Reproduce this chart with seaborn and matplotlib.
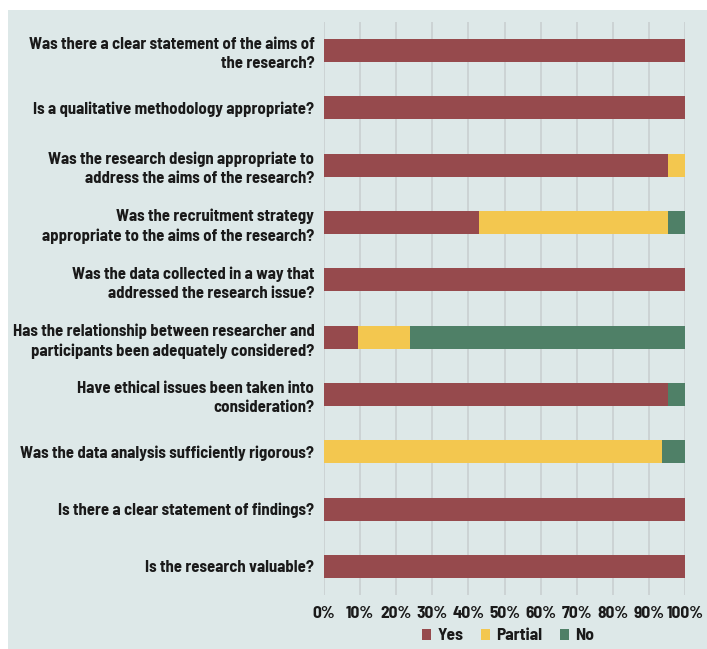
import matplotlib
matplotlib.use("Agg")
import matplotlib.pyplot as plt
import seaborn as sns
import pandas as pd
import numpy as np
from matplotlib.patches import Rectangle

questions = [
    "Was there a clear statement of the aims of\nthe research?",
    "Is a qualitative methodology appropriate?",
    "Was the research design appropriate to\naddress the aims of the research?",
    "Was the recruitment strategy\nappropriate to the aims of the research?",
    "Was the data collected in a way that\naddressed the research issue?",
    "Has the relationship between researcher and\nparticipants been adequately considered?",
    "Have ethical issues been taken into\nconsideration?",
    "Was the data analysis sufficiently rigorous?",
    "Is there a clear statement of findings?",
    "Is the research valuable?",
]
yes = [100, 100, 95.2, 42.9, 100, 9.5, 95.2, 0, 100, 100]
partial = [0, 0, 4.8, 52.4, 0, 14.3, 0, 93.75, 0, 0]
no = [0, 0, 0, 4.7, 0, 76.2, 4.8, 6.25, 0, 0]
series = ["Yes", "Partial", "No"]
colors = ["#964a4d", "#f3c74f", "#4f8067"]
ticks = [0, 10, 20, 30, 40, 50, 60, 70, 80, 90, 100]
tick_labels = [f"{t}%" for t in ticks]

bg = "#dde8e8"
sns.set_theme(style="white")
plt.rcParams['font.family'] = ['Barlow Semi Condensed', 'DejaVu Sans']

fig = plt.figure(figsize=(7.07, 6.49), dpi=100)
fig.patch.set_facecolor("white")
fig.patches.append(Rectangle((8/707, 0), 1, 1 - 10/649, transform=fig.transFigure,
                             facecolor=bg, edgecolor="none", zorder=-10))
ax = fig.add_axes([324/707, 1 - 595/649, (685-324)/707, (595-22)/649])
ax.set_facecolor(bg)

df = pd.DataFrame({"q": questions, "Yes": yes, "Partial": partial, "No": no})
left = np.zeros(len(df))
for s, c in zip(series, colors):
    sns.barplot(data=df, y="q", x=s, left=left, color=c, width=0.4, ax=ax,
                orient="h", label=s, linewidth=0, saturation=1)
    left = left + df[s].values

fs = 12
ax.set_xlim(0, 100)
ax.set_ylim(9.5, -0.5)
ax.set_xticks(ticks)
ax.set_xticklabels(tick_labels, fontsize=12.5, fontweight="bold", color="#1a1a1a")
ax.set_yticks(range(len(questions)))
ax.set_yticklabels(questions, fontsize=fs, fontweight="bold", color="#1a1a1a",
                   linespacing=1.35)
ax.tick_params(axis="y", length=0, pad=7)
ax.tick_params(axis="x", length=0, pad=8)
ax.set_xlabel("")
ax.set_ylabel("")
ax.xaxis.grid(True, color="#c9cfd0", linewidth=1.2)
ax.set_axisbelow(True)
for sp in ax.spines.values():
    sp.set_visible(False)

handles, labels = ax.get_legend_handles_labels()
if ax.get_legend():
    ax.get_legend().remove()
leg = fig.legend(handles, labels, loc="center", bbox_to_anchor=(508/707, 1 - 636/649),
                 ncol=3, frameon=False, handlelength=0.55, handleheight=0.55,
                 handletextpad=0.35, columnspacing=1.0, prop={"weight": "bold", "size": 12.5})
for t in leg.get_texts():
    t.set_color("#1a1a1a")

fig.savefig("out.png", dpi=100, facecolor="white")
